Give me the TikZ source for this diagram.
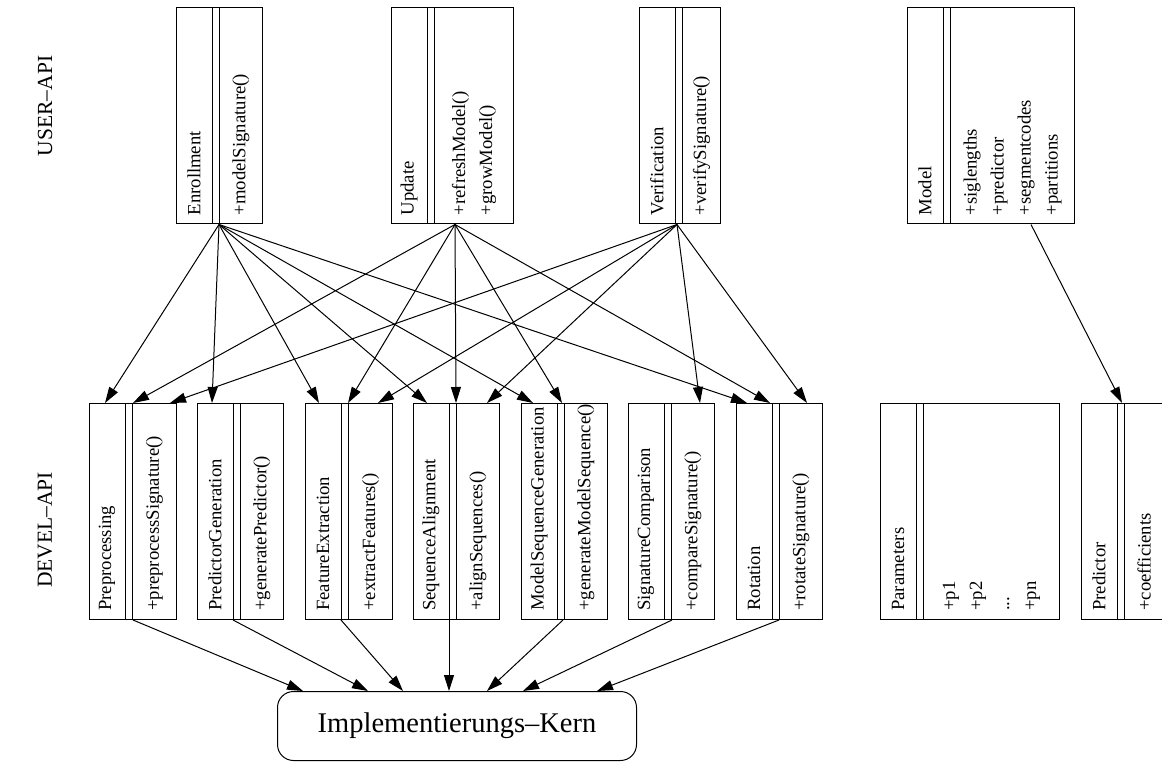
\documentclass[tikz,border=0pt]{standalone}
\usepackage{fontspec}
\setmainfont{Liberation Serif}
\usetikzlibrary{arrows.meta,calc}

\tikzset{
  cls/.style={draw, rectangle, line width=1pt, minimum height=216pt, inner sep=0pt, anchor=north west},
  txt/.style={rotate=90, anchor=west, inner sep=0pt, align=left, font=\fontsize{18.7}{27}\selectfont},
  dep/.style={-{Triangle[length=16pt,width=10pt]}, line width=1pt},
}

% name, top left corner, width, class name, members
\newcommand\classbox[5]{%
  \node[cls, minimum width=#3] (#1) at #2 {};
  \draw[line width=1pt] ([xshift=36pt]#1.north west) -- ([xshift=36pt]#1.south west)
    ([xshift=43pt]#1.north west) -- ([xshift=43pt]#1.south west);
  \node[txt] at ([xshift=18pt,yshift=9pt]#1.south west) {#4};
  \node[txt] at ($([xshift=43pt,yshift=9pt]#1.south west)!.5!([yshift=9pt]#1.south east)$) {#5};
}

\begin{document}
\begin{tikzpicture}[x=1pt, y=-1pt]
   \clip (0,0) rectangle (1162,762);

   \node[rotate=90, font=\fontsize{21.5}{24}\selectfont] (userapi) at (45,106) {USER--API};
   \node[rotate=90, font=\fontsize{21.5}{24}\selectfont] (develapi) at (45,530) {DEVEL--API};

   \classbox{enroll}{(176,7.5)}{86pt}{Enrollment}{+modelSignature()}
   \classbox{update}{(391,7.5)}{122pt}{Update}{+refreshModel()\\+growModel()}
   \classbox{verif}{(639,7.5)}{81pt}{Verification}{+verifySignature()}
   \classbox{model}{(907,7.5)}{167pt}{Model}{+siglengths\\+predictor\\+segmentcodes\\+partitions}

   \classbox{prep}{(89,403)}{87pt}{Preprocessing}{+preprocessSignature()}
   \classbox{predgen}{(197,403)}{86pt}{PredictorGeneration}{+generatePredictor()}
   \classbox{featx}{(305,403)}{87pt}{FeatureExtraction}{+extractFeatures()}
   \classbox{seqal}{(413,403)}{86pt}{SequenceAlignment}{+alignSequences()}
   \classbox{modseq}{(521,403)}{86pt}{ModelSequenceGeneration}{+generateModelSequence()}
   \classbox{sigcmp}{(628,403)}{86pt}{SignatureComparison}{+compareSignature()}
   \classbox{rot}{(736,403)}{86pt}{Rotation}{+rotateSignature()}
   \classbox{params}{(880,403)}{179pt}{Parameters}{+p1\\+p2\\...\\+pn}
   \classbox{pred}{(1081,403)}{82pt}{Predictor}{+coefficients}

   \node[draw, line width=1pt, rounded corners=16pt, minimum width=359pt, minimum height=69pt,
         anchor=north west, font=\fontsize{28.5}{32}\selectfont] (kern) at (277,691) {Implementierungs--Kern};

   \foreach \t/\dx in {prep/16, predgen/15, featx/14, seqal/14, modseq/12, rot/11}
      \draw[dep] ([xshift=43pt]enroll.south west) -- ([xshift=\dx pt]\t.north west);
   \foreach \t/\dx in {prep/44, featx/43, seqal/43, modseq/41, rot/34}
      \draw[dep] ([xshift=64pt]update.south west) -- ([xshift=\dx pt]\t.north west);
   \foreach \t/\dx in {prep/81, featx/73, seqal/74, sigcmp/72, rot/71}
      \draw[dep] ([xshift=38pt]verif.south west) -- ([xshift=\dx pt]\t.north west);
   \draw[dep] ([xshift=124pt]model.south west) -- ([xshift=41pt]pred.north west);

   \foreach \s/\sx/\kx in {prep/44/26, predgen/36/91, featx/36/126, seqal/36/172,
                           modseq/42/210, sigcmp/44/246, rot/43/320}
      \draw[dep] ([xshift=\sx pt]\s.south west) -- ([xshift=\kx pt]kern.north west);
\end{tikzpicture}
\end{document}
